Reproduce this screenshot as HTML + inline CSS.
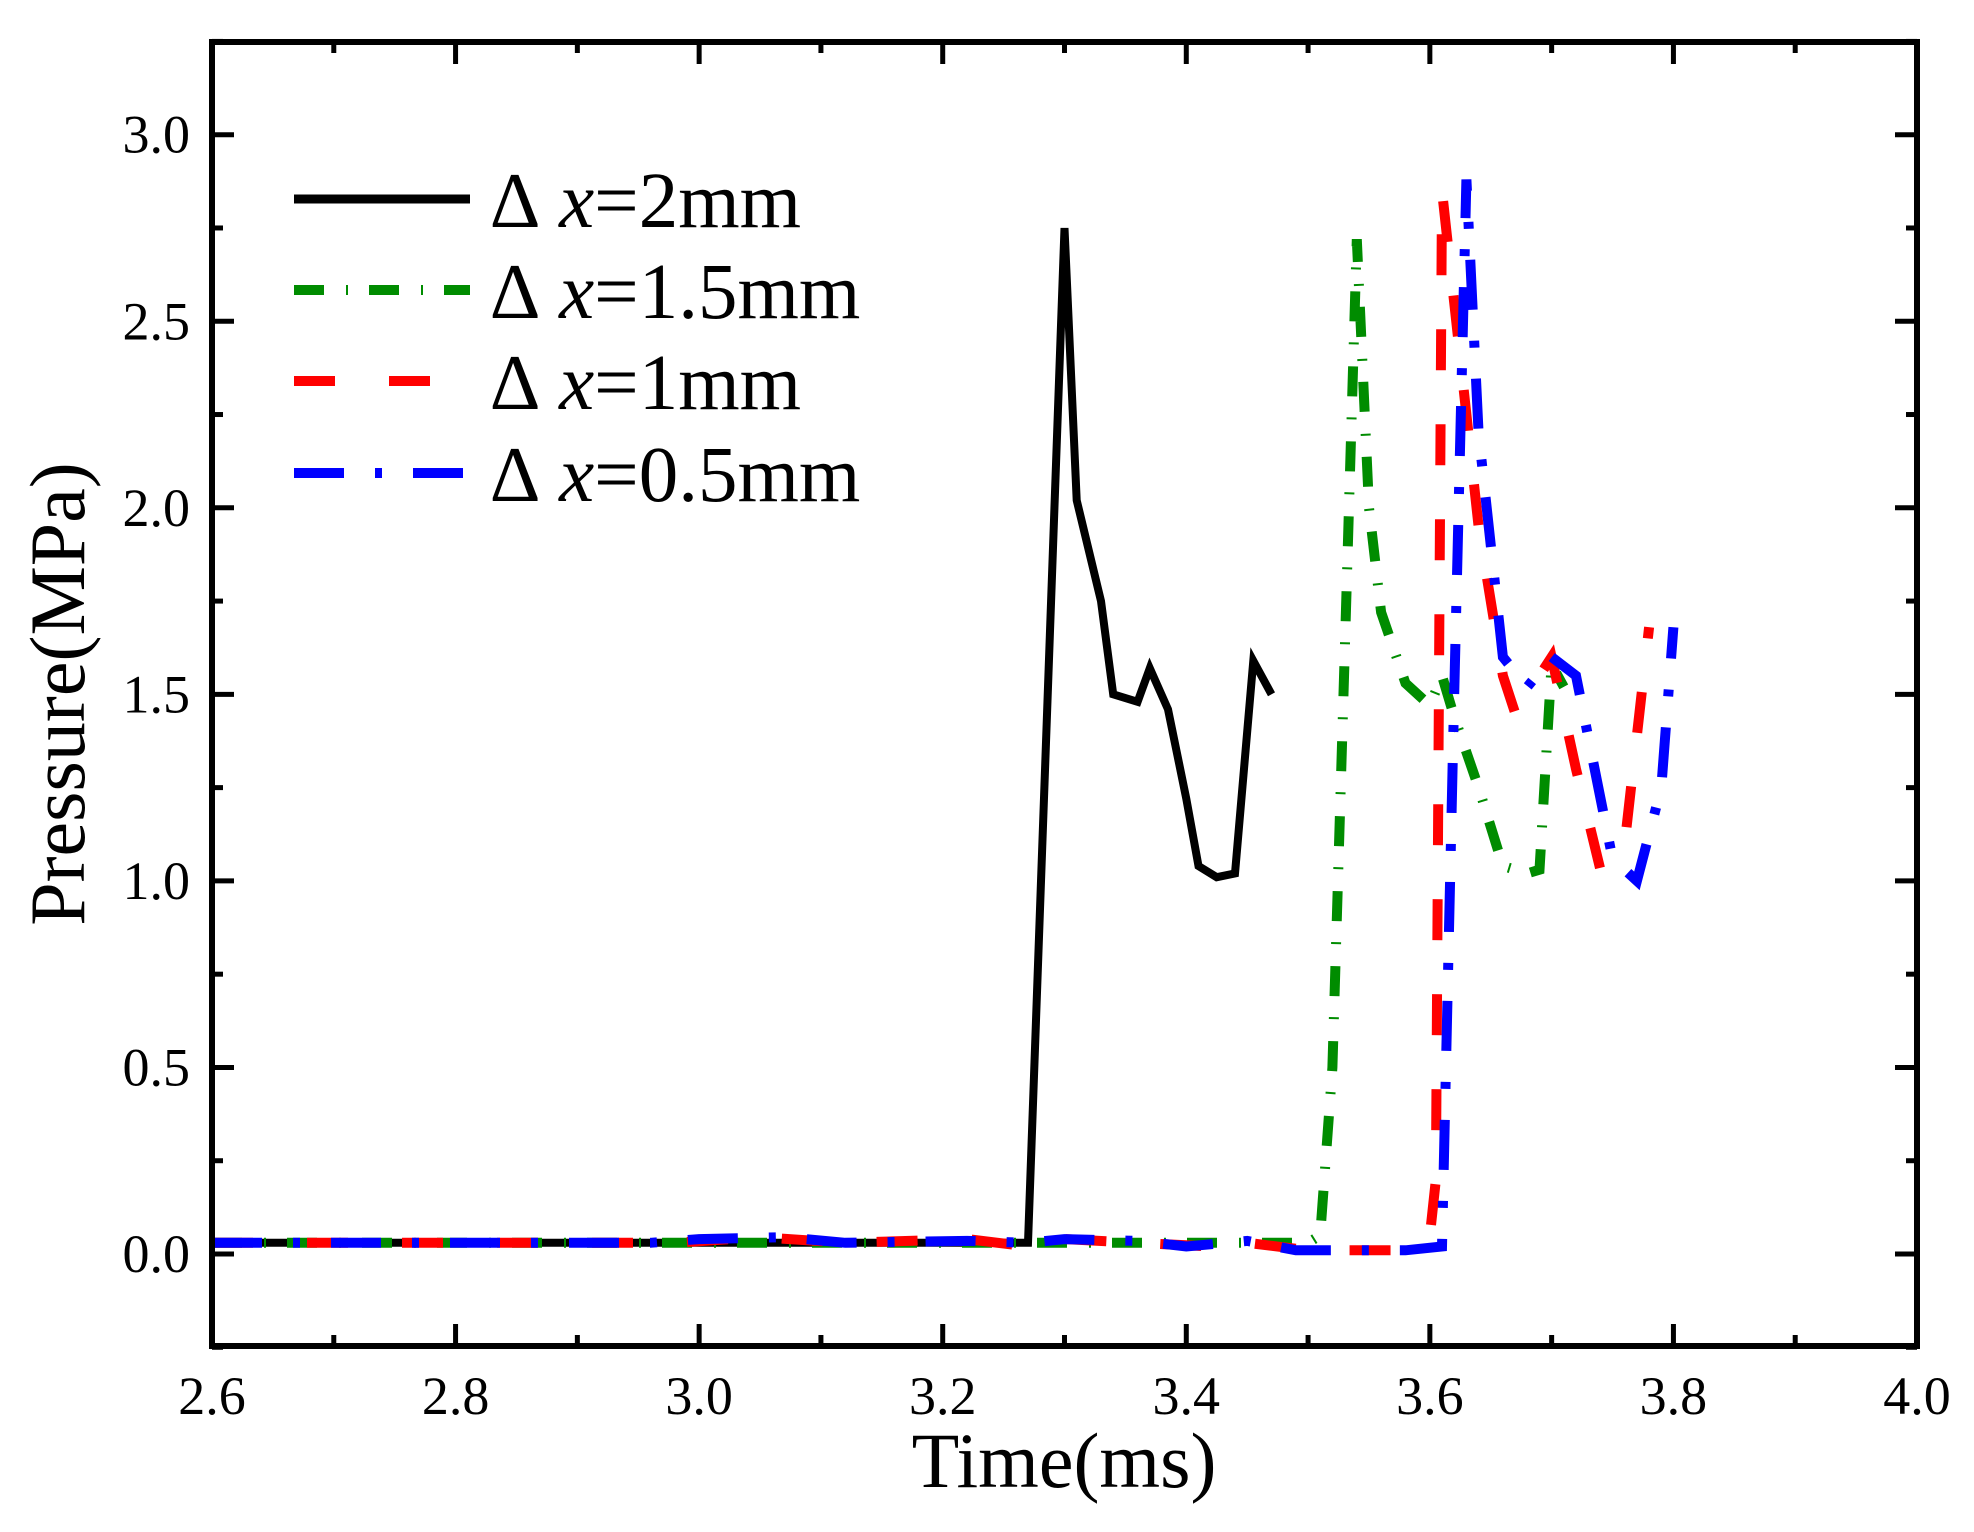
<!DOCTYPE html>
<html><head><meta charset="utf-8"><style>html,body{margin:0;padding:0;background:#fff}svg{display:block}</style></head>
<body>
<svg id="s" width="1974" height="1532" viewBox="0 0 1974 1532" xmlns="http://www.w3.org/2000/svg" font-family="Liberation Serif, serif">
<rect width="1974" height="1532" fill="#fff"/>
<g id="data"></g>
<rect x="212" y="42" width="1705" height="1304" fill="none" stroke="#000" stroke-width="6"/>
<g id="ticks" stroke="#000" stroke-width="5"></g>
<g id="labels" font-size="54" fill="#000"></g>
<text x="1064" y="1487" font-size="78" text-anchor="middle">Time(ms)</text>
<text transform="translate(84,694) rotate(-90)" font-size="78" text-anchor="middle">Pressure(MPa)</text>
<g font-size="79" fill="#000">
<line x1="294" y1="199" x2="470" y2="199" stroke="#000" stroke-width="9"/>
<line x1="294" y1="290" x2="470" y2="290" stroke="#008c00" stroke-width="10" stroke-dasharray="30 22 2 21"/>
<line x1="294" y1="381" x2="470" y2="381" stroke="#ff0000" stroke-width="10" stroke-dasharray="41 54"/>
<line x1="294" y1="473" x2="470" y2="473" stroke="#0000ff" stroke-width="10" stroke-dasharray="50 31 7 31"/>
<text x="491" y="227"><tspan font-style="italic">∆ x</tspan>=2mm</text>
<text x="491" y="318"><tspan font-style="italic">∆ x</tspan>=1.5mm</text>
<text x="491" y="409"><tspan font-style="italic">∆ x</tspan>=1mm</text>
<text x="491" y="501"><tspan font-style="italic">∆ x</tspan>=0.5mm</text>
</g>
</svg>
<script>
var NS="http://www.w3.org/2000/svg";
function X(v){return 212+(v-2.6)/1.4*1705;}
function Y(v){return 1254-v*373.1;}
function el(n,a,p){var e=document.createElementNS(NS,n);for(var k in a)e.setAttribute(k,a[k]);if(p)p.appendChild(e);return e;}
var t=document.getElementById('ticks'),L=document.getElementById('labels');
for(var i=0;i<=14;i++){var v=2.6+i*0.1,x=X(v),maj=i%2==0,len=maj?22:11;
 el('line',{x1:x,y1:1346,x2:x,y2:1346-len},t);el('line',{x1:x,y1:42,x2:x,y2:42+len},t);
 if(maj){var tx=el('text',{x:x,y:1414,'text-anchor':'middle'},L);tx.textContent=v.toFixed(1);}}
for(var j=-1;j<=13;j++){var v=j*0.25,y=Y(v),maj=j%2==0,len=maj?22:11;
 el('line',{x1:212,y1:y,x2:212+len,y2:y},t);el('line',{x1:1917,y1:y,x2:1917-len,y2:y},t);
 if(maj&&j>=0){var tx=el('text',{x:190,y:y+18,'text-anchor':'end'},L);tx.textContent=v.toFixed(1);}}
var D=document.getElementById('data');
function pl(pts,col,w,da){var s=pts.map(function(p){return X(p[0]).toFixed(1)+','+Y(p[1]).toFixed(1)}).join(' ');
 var a={points:s,fill:'none',stroke:col,'stroke-width':w,'stroke-linejoin':'miter'};if(da)a['stroke-dasharray']=da;el('polyline',a,D);}
pl([[2.6,0.03],[3.27,0.03],[3.30,2.75],[3.31,2.02],[3.33,1.75],[3.34,1.50],[3.36,1.48],[3.37,1.57],[3.385,1.46],[3.40,1.22],[3.41,1.04],[3.425,1.01],[3.44,1.02],[3.455,1.59],[3.47,1.50]],'#000',8);
pl([[2.6,0.03],[3.50,0.03],[3.51,0.05],[3.52,0.5],[3.53,1.6],[3.54,2.72],[3.55,2.0],[3.56,1.72],[3.58,1.53],[3.60,1.47],[3.61,1.55],[3.62,1.44],[3.64,1.25],[3.66,1.04],[3.68,1.02],[3.69,1.03],[3.70,1.58],[3.71,1.52]],'#008c00',10,'30 22 2 21');
pl([[2.6,0.03],[2.98,0.03],[3.05,0.045],[3.12,0.03],[3.22,0.04],[3.27,0.02],[3.30,0.04],[3.36,0.03],[3.42,0.02],[3.45,0.03],[3.50,0.01],[3.58,0.01],[3.60,0.05],[3.605,0.2],[3.61,2.85],[3.62,2.55],[3.64,1.95],[3.66,1.55],[3.67,1.45],[3.69,1.55],[3.70,1.60],[3.72,1.30],[3.74,1.03],[3.76,1.10],[3.78,1.68]],'#ff0000',10,'41 54');
pl([[2.6,0.03],[2.96,0.03],[3.0,0.04],[3.07,0.045],[3.12,0.03],[3.22,0.035],[3.27,0.03],[3.30,0.04],[3.36,0.035],[3.40,0.02],[3.45,0.035],[3.49,0.01],[3.58,0.01],[3.61,0.02],[3.62,1.5],[3.63,2.88],[3.64,2.2],[3.66,1.6],[3.68,1.52],[3.70,1.60],[3.72,1.55],[3.75,1.06],[3.77,1.0],[3.79,1.25],[3.80,1.68]],'#0000ff',10,'50 31 7 31');
</script>
</body></html>
